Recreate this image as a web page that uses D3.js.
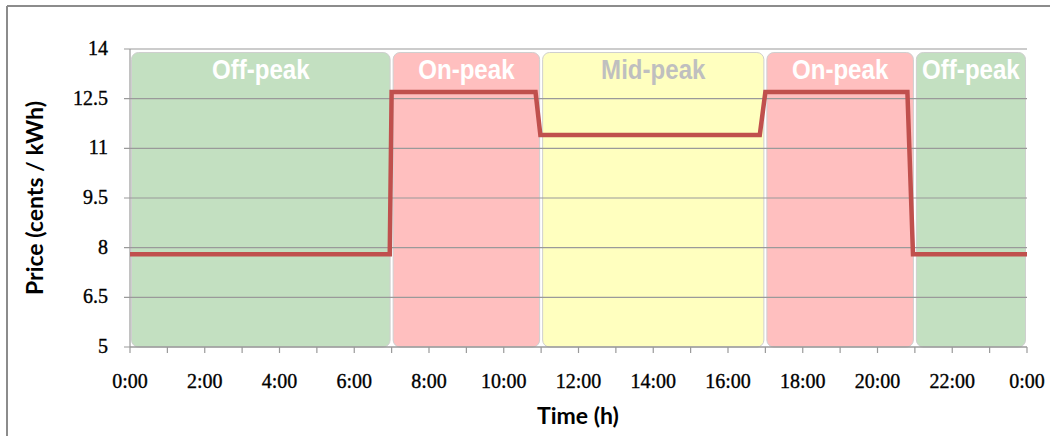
<!DOCTYPE html>
<html>
<head>
<meta charset="utf-8">
<script src="https://cdn.jsdelivr.net/npm/d3@7"></script>
<style>
html,body{margin:0;padding:0;background:#fff;}
svg{display:block;}
</style>
</head>
<body>
<svg id="chart" width="1050" height="436"></svg>
<script>
// ---- data ----
const periodNames = ["Off-peak", "On-peak", "Mid-peak", "On-peak", "Off-peak"];
const periodStart = [0, 7, 11, 17, 21];
const periodEnd   = [7, 11, 17, 21, 24];
const periodKind  = ["off", "on", "mid", "on", "off"];

const priceTimes  = [0, 6.95, 7.0, 10.85, 10.98, 16.85, 17.0, 20.8, 20.95, 24];
const priceValues = [7.8, 7.8, 12.7, 12.7, 11.4, 11.4, 12.7, 12.7, 7.8, 7.8];

const yTicks = [5, 6.5, 8, 9.5, 11, 12.5, 14];
const xLabelHours = [0, 2, 4, 6, 8, 10, 12, 14, 16, 18, 20, 22, 24];
const xLabels = ["0:00","2:00","4:00","6:00","8:00","10:00","12:00","14:00","16:00","18:00","20:00","22:00","0:00"];
const xTickHours = d3.range(0, 25, 1);

// ---- styles ----
const fills = {off: "#c3e0c1", on: "#ffbfbf", mid: "#ffffbf"};
const labelColors = {off: "#ffffff", on: "#ffffff", mid: "#bfbfbf"};

const svg = d3.select("#chart");
const pL = 130, pR = 1027, pT = 49, pB = 347;

const x = d3.scaleLinear().domain([0, 24]).range([pL, pR]);
const y = d3.scaleLinear().domain([5, 14]).range([pB, pT]);

// outer frame (top and left edges visible)
svg.append("line").attr("x1", 7).attr("x2", 1050).attr("y1", 6).attr("y2", 6)
  .attr("stroke", "#8c8c8c").attr("stroke-width", 2);
svg.append("line").attr("x1", 7).attr("x2", 7).attr("y1", 6).attr("y2", 436)
  .attr("stroke", "#8c8c8c").attr("stroke-width", 2);

// bands
const bands = periodNames.map((n, i) => ({name: n, s: periodStart[i], e: periodEnd[i], kind: periodKind[i]}));
svg.append("g").selectAll("rect").data(bands).join("rect")
  .attr("x", d => x(d.s) + 1.5)
  .attr("y", pT + 3.5)
  .attr("width", d => x(d.e) - x(d.s) - 3)
  .attr("height", pB - pT - 3.5)
  .attr("rx", 7).attr("ry", 7)
  .attr("fill", d => fills[d.kind])
  .attr("stroke", "#cfcfcf").attr("stroke-width", 1);

// gridlines + y axis
const gy = svg.append("g").attr("transform", `translate(${pL},0)`);
gy.selectAll("line.grid").data(yTicks).join("line").attr("class", "grid")
  .attr("x1", -6).attr("x2", pR - pL).attr("y1", d => y(d)).attr("y2", d => y(d))
  .attr("stroke", "#9a9a9a").attr("stroke-width", 1.2);
gy.append("line").attr("x1", 0).attr("x2", 0).attr("y1", pT).attr("y2", pB)
  .attr("stroke", "#9a9a9a").attr("stroke-width", 1.2);
gy.selectAll("text.yl").data(yTicks).join("text").attr("class", "yl")
  .attr("x", -22).attr("y", d => y(d) + 6)
  .attr("text-anchor", "end")
  .attr("font-family", "'Liberation Serif', 'DejaVu Serif', serif")
  .attr("font-size", 20).attr("fill", "#000")
  .attr("stroke", "#000").attr("stroke-width", 0.35)
  .text(d => d3.format("~g")(d));

// x axis
const gx = svg.append("g").attr("transform", `translate(0,${pB})`);
gx.append("line").attr("x1", pL).attr("x2", pR).attr("y1", 0).attr("y2", 0)
  .attr("stroke", "#9a9a9a").attr("stroke-width", 1.2);
gx.selectAll("line.xt").data(xTickHours).join("line").attr("class", "xt")
  .attr("x1", d => x(d)).attr("x2", d => x(d)).attr("y1", 0).attr("y2", 6)
  .attr("stroke", "#9a9a9a").attr("stroke-width", 1.2);
gx.selectAll("text.xl").data(xLabelHours).join("text").attr("class", "xl")
  .attr("x", d => x(d)).attr("y", 41)
  .attr("text-anchor", "middle")
  .attr("font-family", "'Liberation Serif', 'DejaVu Serif', serif")
  .attr("font-size", 20).attr("fill", "#000")
  .attr("stroke", "#000").attr("stroke-width", 0.35)
  .text((d, i) => xLabels[i]);

// band labels (condensed bold)
svg.append("g").selectAll("text").data(bands).join("text")
  .attr("transform", d => `translate(${x((d.s + d.e) / 2)},79) scale(0.86,1)`)
  .attr("text-anchor", "middle")
  .attr("font-family", "'Liberation Sans', Arial, sans-serif")
  .attr("font-weight", "bold")
  .attr("font-size", 28)
  .attr("fill", d => labelColors[d.kind])
  .text(d => d.name);

// price line
const pts = priceTimes.map((t, i) => [t, priceValues[i]]);
svg.append("path").datum(pts)
  .attr("d", d3.line().x(d => x(d[0])).y(d => y(d[1])))
  .attr("fill", "none").attr("stroke", "#c0504d").attr("stroke-width", 4.5)
  .attr("stroke-linejoin", "miter");

// axis titles
svg.append("text").attr("x", 578).attr("y", 424).attr("text-anchor", "middle")
  .attr("font-family", "Lato, 'Open Sans', sans-serif").attr("font-weight", "bold")
  .attr("font-size", 23).attr("fill", "#000").text("Time (h)");
svg.append("text").attr("transform", `translate(43,${(pT + pB) / 2}) rotate(-90)`)
  .attr("text-anchor", "middle")
  .attr("font-family", "Lato, 'Open Sans', sans-serif").attr("font-weight", "bold")
  .attr("font-size", 23).attr("fill", "#000").text("Price (cents / kWh)");
</script>
</body>
</html>
